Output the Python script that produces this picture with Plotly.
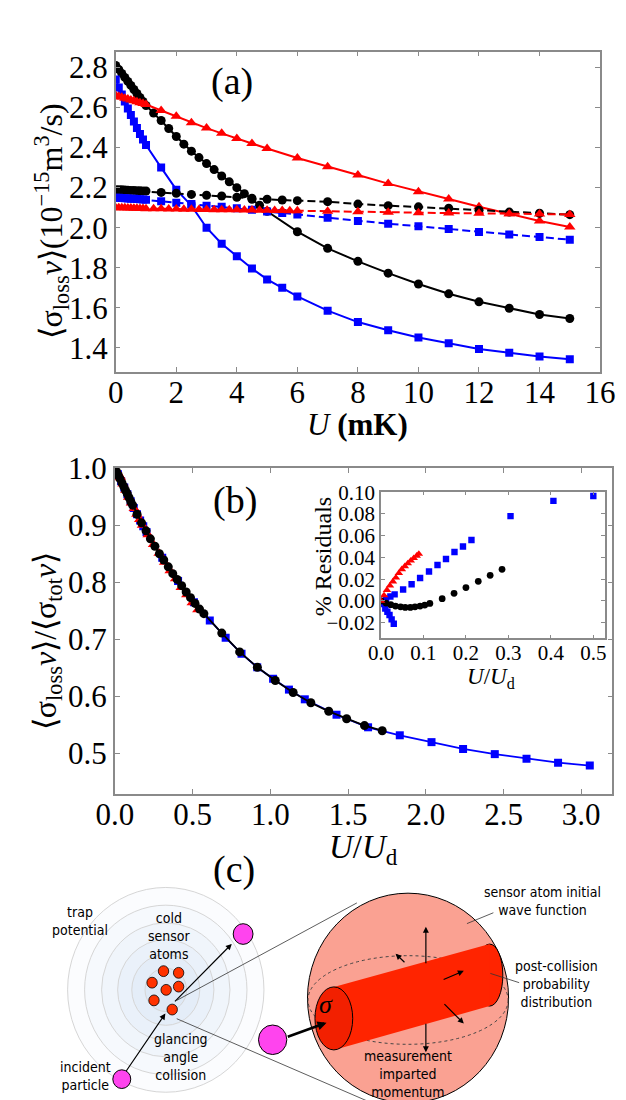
import plotly.graph_objects as go

W, H = 626, 1100
SERIF = "Liberation Serif, Times New Roman, serif"
SANS = "Liberation Sans Narrow, DejaVu Sans Condensed, sans-serif"

# ---- panel (a): trap depth U (mK) vs <sigma_loss v> (1e-15 m^3/s)
u_black = [0, 0.1, 0.2, 0.3, 0.4, 0.5, 0.6, 0.7, 0.8, 0.9, 1.0,
           1.25, 1.5, 1.75, 2.0, 2.25, 2.5, 2.75, 3.0, 3.25, 3.5, 3.75, 4.0,
           4.25, 4.5, 4.75, 5.0, 6, 7, 8, 9, 10, 11, 12, 13, 14, 15]
loss_black = [2.81, 2.79, 2.77, 2.75, 2.73, 2.71, 2.69, 2.67, 2.65, 2.63, 2.61,
              2.572, 2.535, 2.495, 2.455, 2.417, 2.382, 2.35, 2.32, 2.29, 2.258, 2.229, 2.2,
              2.17, 2.142, 2.112, 2.082, 1.98, 1.897, 1.832, 1.773, 1.719, 1.67, 1.63, 1.598, 1.567, 1.547]

u_half = [0, 0.1, 0.2, 0.3, 0.4, 0.5, 0.6, 0.7, 0.8, 0.9, 1.0,
          1.5, 2.0, 2.5, 3.0, 3.5, 4.0, 4.5, 5.0, 5.5, 6, 7, 8, 9, 10, 11, 12, 13, 14, 15]
loss_blue = [2.74, 2.70, 2.665, 2.63, 2.595, 2.562, 2.53, 2.498, 2.468, 2.44, 2.413,
             2.30, 2.19, 2.11, 2.0, 1.92, 1.857, 1.796, 1.742, 1.70, 1.657,
             1.586, 1.529, 1.488, 1.452, 1.423, 1.395, 1.376, 1.357, 1.344]
tot_black = [2.19, 2.189, 2.189, 2.188, 2.187, 2.186, 2.186, 2.185, 2.184, 2.183, 2.183,
             2.176, 2.172, 2.166, 2.162, 2.158, 2.152, 2.147, 2.142, 2.138, 2.135,
             2.13, 2.118, 2.11, 2.104, 2.097, 2.087, 2.078, 2.072, 2.065]
tot_blue = [2.15, 2.149, 2.148, 2.147, 2.146, 2.145, 2.144, 2.143, 2.142, 2.141, 2.14,
            2.132, 2.125, 2.118, 2.11, 2.104, 2.097, 2.089, 2.081, 2.073, 2.066,
            2.05, 2.034, 2.02, 2.007, 1.993, 1.979, 1.966, 1.953, 1.94]

u_red = [0, 0.1, 0.2, 0.3, 0.4, 0.5, 0.6, 0.7, 0.8, 0.9, 1.0,
         1.5, 2.0, 2.5, 3.0, 3.5, 4.0, 4.5, 5.0, 6, 7, 8, 9, 10, 11, 12, 13, 14, 15]
loss_red = [2.66, 2.655, 2.651, 2.646, 2.642, 2.637, 2.633, 2.628, 2.624, 2.62, 2.615,
            2.585, 2.556, 2.524, 2.497, 2.471, 2.445, 2.42, 2.395,
            2.348, 2.304, 2.263, 2.22, 2.18, 2.143, 2.105, 2.069, 2.033, 2.004]

u_red_tot = [0, 0.1, 0.2, 0.3, 0.4, 0.5, 0.6, 0.7, 0.8, 0.9, 1.0,
             1.25, 1.5, 1.75, 2.0, 2.25, 2.5, 2.75, 3.0, 3.25, 3.5, 3.75, 4.0,
             4.25, 4.5, 4.75, 5.0, 5.25, 5.5, 5.75, 6.0, 7, 8, 9, 10, 11, 12, 13, 14, 15]
tot_red = [2.10, 2.1, 2.099, 2.099, 2.098, 2.098, 2.097, 2.097, 2.096, 2.096, 2.095,
           2.094, 2.094, 2.093, 2.093, 2.092, 2.092, 2.091, 2.091, 2.090, 2.090, 2.089, 2.089,
           2.088, 2.088, 2.087, 2.087, 2.086, 2.086, 2.085, 2.085,
           2.082, 2.079, 2.077, 2.075, 2.073, 2.072, 2.07, 2.068, 2.066]

# ---- panel (b): U/U_d vs <sigma_loss v>/<sigma_tot v>
xb_blue = [0, 0.0204, 0.0407, 0.061, 0.081, 0.102, 0.122, 0.143, 0.163, 0.183, 0.204,
           0.305, 0.407, 0.509, 0.611, 0.713, 0.815, 0.916, 1.018, 1.12, 1.222,
           1.426, 1.629, 1.833, 2.037, 2.24, 2.444, 2.648, 2.851, 3.055]
yb_blue = [1.0, 0.989, 0.977, 0.966, 0.954, 0.942, 0.93, 0.919, 0.908, 0.898, 0.888,
           0.843, 0.802, 0.765, 0.733, 0.703, 0.675, 0.651, 0.631, 0.612, 0.595,
           0.568, 0.546, 0.532, 0.52, 0.508, 0.499, 0.491, 0.484, 0.479]
xb_black = [0, 0.0115, 0.023, 0.034, 0.046, 0.057, 0.069, 0.08, 0.092, 0.103, 0.115,
            0.143, 0.172, 0.201, 0.229, 0.258, 0.287, 0.315, 0.344, 0.373, 0.401, 0.43, 0.459,
            0.487, 0.516, 0.545, 0.573, 0.688, 0.803, 0.917, 1.032, 1.147, 1.261, 1.376,
            1.491, 1.606, 1.72]
yb_black = [1.0, 0.9935, 0.987, 0.981, 0.974, 0.968, 0.961, 0.955, 0.948, 0.941, 0.935,
            0.919, 0.904, 0.89, 0.876, 0.863, 0.85, 0.839, 0.827, 0.815, 0.805, 0.794, 0.783,
            0.773, 0.763, 0.753, 0.745, 0.711, 0.678, 0.651, 0.628, 0.607, 0.589, 0.574,
            0.561, 0.549, 0.54]
xb_red = [0, 0.0036, 0.0071, 0.0107, 0.0142, 0.0178, 0.0214, 0.0249, 0.0285, 0.032, 0.0356,
          0.053, 0.071, 0.089, 0.107, 0.125, 0.142, 0.16, 0.178,
          0.214, 0.249, 0.285, 0.32, 0.356, 0.391, 0.427, 0.463, 0.498, 0.534]
yb_red = [1.0, 0.998, 0.997, 0.995, 0.993, 0.991, 0.99, 0.988, 0.986, 0.985, 0.983,
          0.972, 0.961, 0.949, 0.939, 0.929, 0.919, 0.91, 0.9,
          0.883, 0.866, 0.851, 0.835, 0.82, 0.806, 0.791, 0.778, 0.764, 0.752]

# ---- inset: % residuals vs U/U_d
xi_blue = [0.0, 0.012, 0.022, 0.032, 0.052, 0.072, 0.092, 0.113, 0.133, 0.153,
           0.173, 0.193, 0.213, 0.305, 0.406, 0.5]
yi_blue = [0.0, 0.002, 0.004, 0.006, 0.0105, 0.0153, 0.021, 0.027, 0.033, 0.0385,
           0.045, 0.05, 0.056, 0.078, 0.092, 0.0965]
xi_blue_low = [0.005, 0.01, 0.015, 0.02, 0.025, 0.03]
yi_blue_low = [-0.003, -0.007, -0.01, -0.013, -0.017, -0.021]
xi_black = [0.0, 0.0115, 0.023, 0.034, 0.046, 0.057, 0.069, 0.08, 0.092, 0.103, 0.115,
            0.144, 0.172, 0.2, 0.229, 0.257, 0.285]
yi_black = [0.0, -0.002, -0.0035, -0.0048, -0.0055, -0.006, -0.006, -0.0055, -0.0048, -0.0038, -0.0024,
            0.002, 0.007, 0.0123, 0.018, 0.0235, 0.029]
xi_red = [0.0, 0.007, 0.014, 0.021, 0.028, 0.035, 0.042, 0.049, 0.056, 0.063, 0.07, 0.077, 0.084, 0.089]
yi_red = [0.0, 0.005, 0.01, 0.014, 0.0178, 0.0213, 0.0255, 0.029, 0.0318, 0.0345, 0.037, 0.0393, 0.0415, 0.0432]

a_xticks = [0, 2, 4, 6, 8, 10, 12, 14, 16]
a_yticks = [1.4, 1.6, 1.8, 2.0, 2.2, 2.4, 2.6, 2.8]
b_xticks = [0.0, 0.5, 1.0, 1.5, 2.0, 2.5, 3.0]
b_yticks = [0.5, 0.6, 0.7, 0.8, 0.9, 1.0]
i_xticks = [0.0, 0.1, 0.2, 0.3, 0.4, 0.5]
i_yticks = [-0.02, 0.0, 0.02, 0.04, 0.06, 0.08, 0.10]


def px(x):
    return x / W


def py(y):
    return 1 - y / H


fig = go.Figure()

MARK = {"black": ("circle", 9), "blue": ("square", 8), "red": ("triangle-up", 10)}


def add_series(x, y, color, dash, xa, ya, size_scale=1.0, line=True, lw=2):
    sym, size = MARK[color]
    fig.add_trace(go.Scatter(
        x=x, y=y, xaxis=xa, yaxis=ya,
        mode="lines+markers" if line else "markers",
        line=dict(color=color, width=lw, dash=dash),
        marker=dict(symbol=sym, size=size * size_scale, color=color, line=dict(width=0)),
        showlegend=False, hoverinfo="skip"))


# (a)
add_series(u_black, loss_black, "black", "solid", "x", "y")
add_series(u_half, loss_blue, "blue", "solid", "x", "y")
add_series(u_red, loss_red, "red", "solid", "x", "y")
add_series(u_half, tot_black, "black", "8px,4px", "x", "y")
add_series(u_half, tot_blue, "blue", "8px,4px", "x", "y")
add_series(u_red_tot, tot_red, "red", "8px,4px", "x", "y")

# (b)
add_series(xb_blue, yb_blue, "blue", "solid", "x2", "y2", lw=1.8)
add_series(xb_red, yb_red, "red", "solid", "x2", "y2", lw=1.8)
add_series(xb_black, yb_black, "black", "solid", "x2", "y2", lw=1.8)

# inset
add_series(xi_blue, yi_blue, "blue", "solid", "x3", "y3", size_scale=0.8, line=False)
add_series(xi_blue_low, yi_blue_low, "blue", "solid", "x3", "y3", size_scale=0.8, line=False)
add_series(xi_black, yi_black, "black", "solid", "x3", "y3", size_scale=0.75, line=False)
add_series(xi_red, yi_red, "red", "solid", "x3", "y3", size_scale=0.75, line=False)

axis = dict(showline=True, linecolor="#8a8a8a", linewidth=1.5, mirror="ticks",
            ticks="inside", ticklen=5, tickcolor="#8a8a8a", showgrid=False,
            zeroline=False, tickfont=dict(family=SERIF, size=31, color="black"))
small = dict(axis, ticklen=4, tickfont=dict(family=SERIF, size=21, color="black"))

fig.update_layout(
    width=W, height=H, margin=dict(l=0, r=0, t=0, b=0),
    paper_bgcolor="white", plot_bgcolor="rgba(0,0,0,0)",
    xaxis=dict(axis, domain=[px(94), px(607)], range=[0, 16], tickvals=a_xticks, anchor="y",
               ticklabelstandoff=-8),
    yaxis=dict(axis, domain=[py(352), py(27)], range=[1.282, 2.879], tickvals=a_yticks,
               tickformat=".1f", anchor="x"),
    xaxis2=dict(axis, domain=[px(93), px(620)], range=[0, 3.2], tickvals=b_xticks,
                tickformat=".1f", anchor="y2", ticklabelstandoff=-8),
    yaxis2=dict(axis, domain=[py(781), py(450)], range=[0.4293, 1.0], tickvals=b_yticks,
                tickformat=".1f", anchor="x2"),
    xaxis3=dict(small, domain=[px(375), px(612)], range=[0, 0.527], tickvals=i_xticks,
                tickformat=".1f", anchor="y3", ticklabelstandoff=-5),
    yaxis3=dict(small, domain=[py(623), py(474)], range=[-0.0345, 0.1005], tickvals=i_yticks,
                tickformat=".2f", anchor="x3"),
)


# ---- text labels of the plots
def label(x, y, text, size, angle=0, family=SERIF):
    fig.add_annotation(x=px(x), y=py(y), xref="paper", yref="paper", text=text,
                       showarrow=False, textangle=angle, xanchor="center", yanchor="middle",
                       font=dict(family=family, size=size, color="black"))


label(217, 57, "(a)", 38)
label(220, 483, "(b)", 38)
label(219, 858, "(c)", 38)
label(350, 406, "<i>U</i> <b>(mK)</b>", 31)
label(26, 200, "⟨σ<sub>loss</sub><i>v</i>⟩(10<sup>−15</sup>m<sup>3</sup>/s)", 32, -90)
label(356, 837, "<i>U</i>/<i>U</i><sub>d</sub>", 33)
label(21, 626, "⟨σ<sub>loss</sub><i>v</i>⟩/⟨σ<sub>tot</sub><i>v</i>⟩", 32, -90)
label(491, 663, "<i>U</i>/<i>U</i><sub>d</sub>", 23)
label(313, 540, "% Residuals", 24, -90)

# ---- panel (c): schematic
trap_center = (147, 980)
trap_radii = [104, 86, 68, 51, 36, 22]
trap_fills = ["#fbfcfe", "#f6f9fd", "#f0f5fb", "#eaf1fa", "#e4edf8", "#dee9f6"]
atoms = [(144.6, 961), (160.6, 962.7), (132.5, 972.7), (147.4, 980),
         (160.6, 976.7), (134.5, 990.7), (153.8, 1000)]
particles = [(228.9, 923.3, 10.5), (100.4, 1070.7, 9.5), (260.2, 1030.7, 15)]
sphere = (403.6, 988.3, 106.5)

shapes = []


def ellipse(cx, cy, rx, ry, fill, line="black", lw=1, dash="solid"):
    return dict(type="circle", xref="paper", yref="paper",
                x0=px(cx - rx), x1=px(cx + rx), y0=py(cy + ry), y1=py(cy - ry),
                fillcolor=fill, line=dict(color=line, width=lw, dash=dash), layer="above")


def seg(x0, y0, x1, y1, lw=0.8, color="#333333"):
    return dict(type="line", xref="paper", yref="paper", x0=px(x0), y0=py(y0),
                x1=px(x1), y1=py(y1), line=dict(color=color, width=lw))


for r, f in zip(trap_radii, trap_fills):
    shapes.append(ellipse(trap_center[0], trap_center[1], r, r, f, line="#d6d6d6", lw=1))
for ax_, ay_ in atoms:
    shapes.append(ellipse(ax_, ay_, 5.5, 5.5, "#ff3300", lw=0.8))

shapes.append(seg(158.6, 990.7, 349.4, 891.7))
shapes.append(seg(158.6, 1009.3, 361.4, 1093.3))

cx, cy, r = sphere
shapes.append(ellipse(cx, cy, r, r, "#faa192", lw=1))
shapes.append(ellipse(cx, cy + 2, 106, 45, "rgba(0,0,0,0)", line="#444444", lw=1, dash="dot"))

# cylinder: right cap, body, left cap
shapes.append(ellipse(490, 965, 14, 31.5, "#ff2400", lw=1))
body = "M {} {} L {} {} L {} {} L {} {} Z".format(
    px(325), py(977), px(490), py(933.5), px(490), py(996.5), px(325), py(1041))
shapes.append(dict(type="path", xref="paper", yref="paper", path=body,
                   fillcolor="#ff2400", line=dict(width=0), layer="above"))
shapes.append(ellipse(325, 1009, 20, 32, "#f22000", lw=1))

for x_, y_, r_ in particles:
    shapes.append(ellipse(x_, y_, r_, r_, "#ff44ee", lw=1))

shapes.append(seg(494, 901.7, 466, 912.7, lw=0.8))
shapes.append(seg(521.3, 972.7, 490.8, 963.3, lw=0.8))

fig.update_layout(shapes=shapes)


def arrow(x0, y0, x1, y1, w=1.2, size=1.0):
    fig.add_annotation(x=px(x1), y=py(y1), xref="paper", yref="paper",
                       ax=x0 - x1, ay=y0 - y1, text="", showarrow=True,
                       arrowhead=2, arrowsize=size, arrowwidth=w, arrowcolor="black")


arrow(106.4, 1063, 146.6, 1004)
arrow(158.6, 992.3, 216.9, 933.3)
arrow(277, 1028, 317.3, 1013.3, w=2.6, size=0.7)
arrow(422.5, 954, 422.5, 916)
arrow(422.5, 1013.3, 422.5, 1043.3)
arrow(400.8, 953.3, 390.4, 943.3)
arrow(441, 970, 462.7, 960.7)
arrow(441.8, 993.3, 462.7, 1014.3)

label(317, 995, "<i>σ</i>", 26)
label(56, 910, "trap<br>potential", 14, family=SANS)
label(151, 925, "cold<br>sensor<br>atoms", 14, family=SANS)
label(162.6, 1048, "glancing<br>angle<br>collision", 14, family=SANS)
label(62, 1068, "incident<br>particle", 14, family=SANS)
label(546, 890, "sensor atom initial<br>wave function", 14, family=SANS)
label(561, 974, "post-collision<br>probability<br>distribution", 14, family=SANS)
label(404, 1065, "measurement<br>imparted<br>momentum", 14, family=SANS)

fig.write_html("out.html")
